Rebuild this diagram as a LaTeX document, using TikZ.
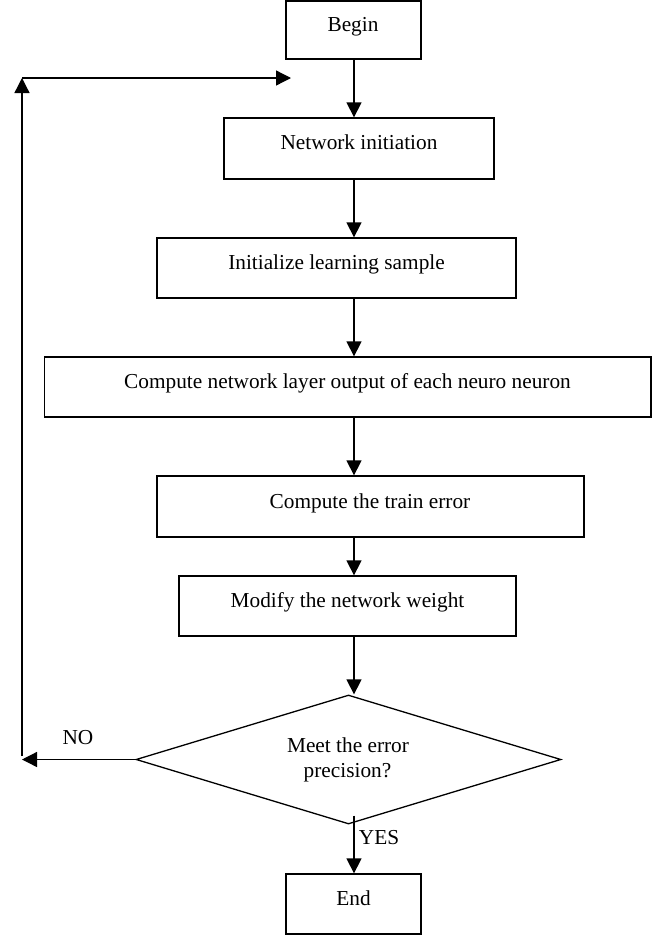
\documentclass[tikz,border=0pt]{standalone}
\usepackage{fontspec}
\setmainfont{Liberation Serif}
\usetikzlibrary{arrows.meta,shapes.geometric,calc}
\begin{document}
\begin{tikzpicture}[x=1pt,y=-1pt,
  box/.style={draw, line width=1.3pt, rectangle, inner sep=0pt},
  txt/.style={anchor=base, inner sep=0pt, font=\fontsize{21.3}{25}\selectfont},
  arr/.style={line width=1.3pt, -{Triangle[length=15pt,width=15pt]}},
]
\useasboundingbox (0,0) rectangle (660,937);
% vertical line along which the main flow runs
\coordinate (spine) at (354,0);

% process boxes
\node[box, minimum width=135pt, minimum height=58pt]  (begin)  at (353.5,30)  {};
\node[box, minimum width=270pt, minimum height=61pt]  (net)    at (359,148.5) {};
\node[box, minimum width=359pt, minimum height=60pt]  (init)   at (336.5,268) {};
\node[box, minimum width=606.5pt, minimum height=60pt](comp)   at (347.75,387){};
\node[box, minimum width=427pt, minimum height=61pt]  (train)  at (370.5,506.5){};
\node[box, minimum width=337pt, minimum height=60pt]  (modify) at (347.5,606) {};
\node[draw, diamond, line width=1.3pt, inner sep=0pt,
      minimum width=425pt, minimum height=129pt]      (dia)    at (348.5,759.5){};
\node[box, minimum width=135pt, minimum height=60pt]  (end)    at (353.5,904) {};

% box texts
\node[txt] (tbegin)  at (353,31)    {Begin};
\node[txt] (tnet)    at (359,149)   {Network initiation};
\node[txt] (tinit)   at (336.5,269) {Initialize learning sample};
\node[txt] (tcomp)   at (347.5,388) {Compute network layer output of each neuro neuron};
\node[txt] (ttrain)  at (370,508)   {Compute the train error};
\node[txt] (tmodify) at (347.5,607) {Modify the network weight};
\node[txt] (tdia1)   at (348,752)   {Meet the error};
\node[txt] (tdia2)   at (347.5,777) {precision?};
\node[txt] (tend)    at (353.5,905) {End};
\node[txt] (tno)     at (78,744)    {NO};
\node[txt] (tyes)    at (379,844)   {YES};

% main flow
\draw[arr] (begin.south -| spine) -- (net.north -| spine);
\draw[arr] (net.south -| spine)   -- (init.north -| spine);
\draw[arr] (init.south -| spine)  -- (comp.north -| spine);
\draw[arr] (comp.south -| spine)  -- (train.north -| spine);
\draw[arr] (train.south -| spine) -- (modify.north -| spine);
\draw[arr] (modify.south -| spine) -- (dia.north -| spine);
\draw[arr] ($(dia.south -| spine)+(0,-9)$) -- (end.north -| spine);

% feedback loop
\coordinate (noend)      at (22,759.5);
\coordinate (loopbot)    at (22,756);
\coordinate (loopcorner) at (22,78);
\coordinate (loopend)    at (291,78);
\draw[arr] (dia.west) -- (noend);
\draw[arr] (loopbot) -- (loopcorner);
\draw[arr] (loopcorner) -- (loopend);
\end{tikzpicture}
\end{document}
